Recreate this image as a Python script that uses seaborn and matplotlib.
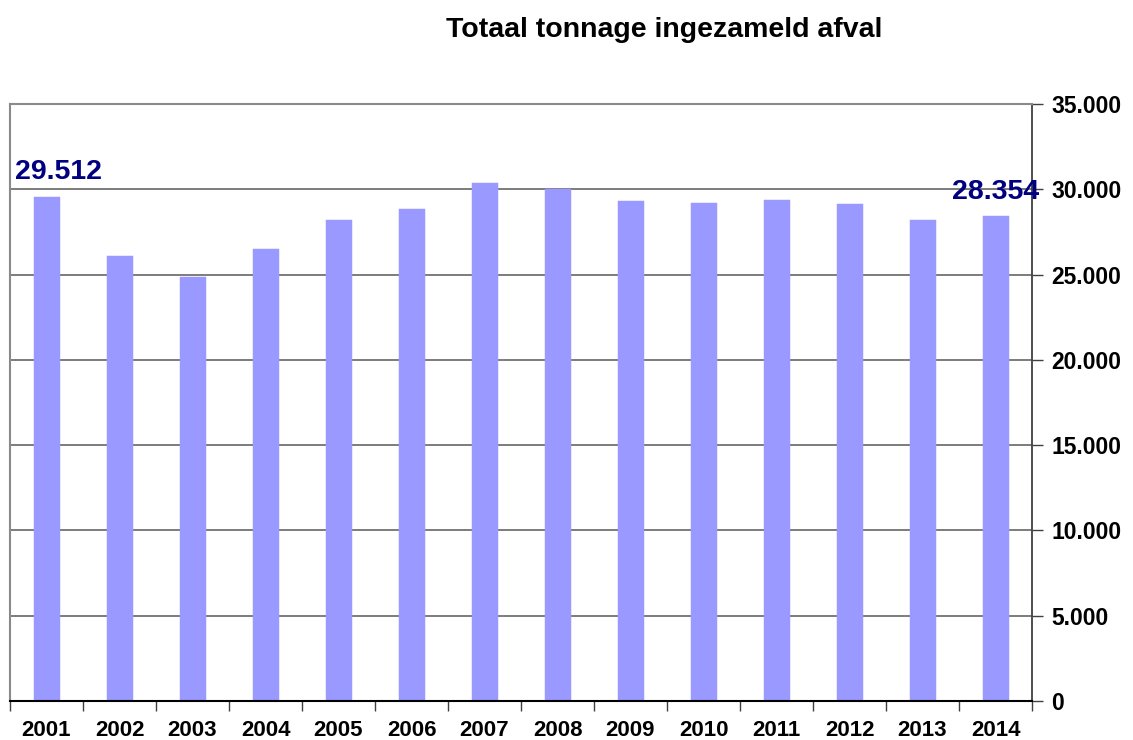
import matplotlib
matplotlib.use("Agg")
import matplotlib.pyplot as plt
import seaborn as sns
import pandas as pd
from matplotlib.ticker import FuncFormatter, MultipleLocator

# data
years = ["2001", "2002", "2003", "2004", "2005", "2006", "2007",
         "2008", "2009", "2010", "2011", "2012", "2013", "2014"]
tonnage = [29512, 26050, 24800, 26450, 28150, 28800, 30330,
           29970, 29270, 29150, 29330, 29090, 28150, 28354]
labelled_years = ["2001", "2014"]

df = pd.DataFrame({"jaar": years, "ton": tonnage})

sns.set_style("white")
plt.rcParams["font.family"] = ["Liberation Sans", "DejaVu Sans"]
plt.rcParams["text.color"] = "black"
plt.rcParams["xtick.color"] = "black"
plt.rcParams["ytick.color"] = "black"

fig = plt.figure(figsize=(11.33, 7.40), dpi=100)
ax = fig.add_axes([10 / 1133, 39 / 740, 1022 / 1133, 597 / 740])

sns.barplot(data=df, x="jaar", y="ton", color="#9999FF", width=0.31,
            saturation=1, edgecolor="#9999FF", linewidth=2.5, ax=ax)

ax.set_ylim(0, 35000)
ax.set_xlim(-0.5, len(years) - 0.5)
ax.yaxis.set_major_locator(MultipleLocator(5000))
ax.yaxis.set_major_formatter(FuncFormatter(lambda v, p: f"{int(v):,}".replace(",", ".")))
ax.yaxis.tick_right()
ax.grid(axis="y", color="#666666", linewidth=1.2)
ax.set_axisbelow(True)

# x ticks sit between categories
ax.set_xticks([i - 0.5 for i in range(len(years) + 1)], minor=True)
ax.tick_params(axis="x", which="both", bottom=True)
ax.tick_params(axis="x", which="minor", length=7, width=1, color="#404040", direction="out")
ax.tick_params(axis="x", which="major", length=0, labelsize=16, pad=14)
ax.tick_params(axis="y", right=True, length=8, width=1, color="#404040", direction="out",
               labelsize=16.5, pad=6)
for lab in ax.get_xticklabels() + ax.get_yticklabels():
    lab.set_fontweight("bold")

ax.set_xlabel("")
ax.set_ylabel("")

for side in ["left", "top"]:
    ax.spines[side].set_color("#8a8a8a")
    ax.spines[side].set_linewidth(1.5)
ax.spines["right"].set_color("#404040")
ax.spines["right"].set_linewidth(1.3)
ax.spines["bottom"].set_color("black")
ax.spines["bottom"].set_linewidth(1.5)

# value labels on the first and last bar
for yr in labelled_years:
    i = years.index(yr)
    v = tonnage[i]
    dx = 9 if i == 0 else 0
    ax.annotate(f"{v:,}".replace(",", "."), (i, v), xytext=(dx, 9),
                textcoords="offset points", ha="center", va="bottom",
                fontsize=20.5, fontweight="bold", color="#000080",
                annotation_clip=False)

fig.text(664 / 1133, 1 - 30 / 740, "Totaal tonnage ingezameld afval",
         ha="center", va="center", fontsize=20.5, fontweight="bold")

fig.savefig("out.png", dpi=100)
